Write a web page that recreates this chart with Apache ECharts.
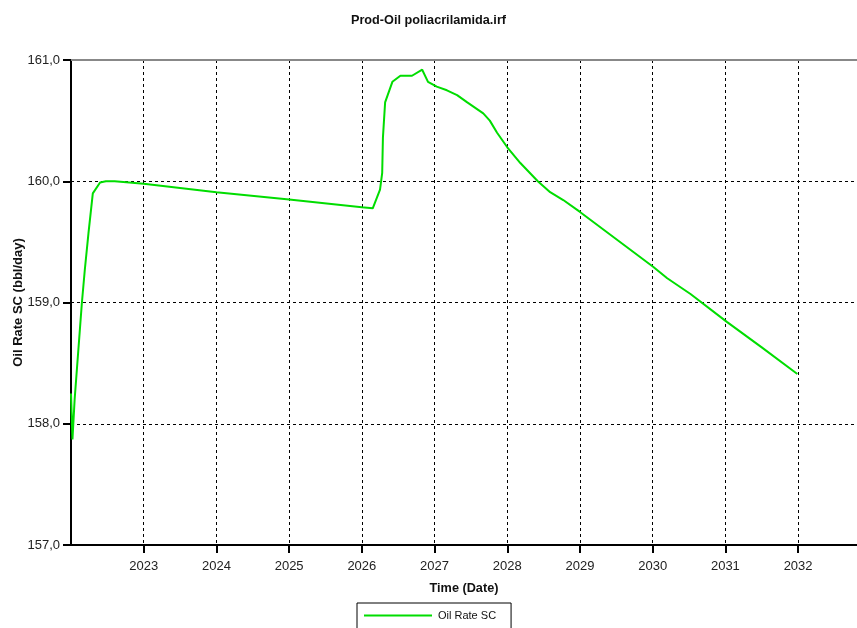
<!DOCTYPE html>
<html>
<head>
<meta charset="utf-8">
<script src="https://cdn.jsdelivr.net/npm/echarts@6/dist/echarts.min.js"></script>
<style>
  html, body { margin: 0; padding: 0; background: #fff; }
  #chart { width: 857px; height: 628px; }
</style>
</head>
<body>
<div id="chart"></div>
<script>
// Time in decimal years
const times = [
  2022.00, 2022.02, 2022.05, 2022.15, 2022.19, 2022.24, 2022.30, 2022.40,
  2022.48, 2022.60, 2023.00, 2024.00, 2025.00, 2026.00, 2026.15, 2026.25,
  2026.28, 2026.29, 2026.32, 2026.42, 2026.53, 2026.69, 2026.83, 2026.84,
  2026.91, 2027.03, 2027.17, 2027.31, 2027.45, 2027.67, 2027.76, 2027.86,
  2028.00, 2028.18, 2028.42, 2028.59, 2028.77, 2029.00, 2030.01, 2030.20,
  2030.52, 2031.02, 2031.50, 2031.99
];
// Oil rate (bbl/day)
const oilRate = [
  158.25, 157.87, 158.20, 159.00, 159.27, 159.57, 159.90, 159.99,
  160.00, 160.00, 159.98, 159.91, 159.85, 159.785, 159.777, 159.93,
  160.07, 160.36, 160.65, 160.82, 160.87, 160.87, 160.92, 160.93,
  160.82, 160.78, 160.75, 160.71, 160.65, 160.56, 160.50, 160.40,
  160.28, 160.15, 160.00, 159.91, 159.845, 159.747, 159.293, 159.20,
  159.07, 158.84, 158.63, 158.41
];
const seriesName = 'Oil Rate SC';
const yTicks = [157, 158, 159, 160, 161];
const yearTicks = [2023, 2024, 2025, 2026, 2027, 2028, 2029, 2030, 2031, 2032];
const xStartYear = 2022;
const xEndYear = 2032.81;

const font = 'Liberation Sans, Arial, sans-serif';
const chart = echarts.init(document.getElementById('chart'), null, { renderer: 'canvas' });

chart.setOption({
  backgroundColor: '#ffffff',
  animation: false,
  title: {
    text: 'Prod-Oil poliacrilamida.irf',
    left: 'center',
    top: 9,
    textStyle: { fontFamily: font, fontSize: 12.7, fontWeight: 'bold', color: '#111' }
  },
  legend: {
    data: [seriesName],
    left: 357,
    top: 603,
    orient: 'horizontal',
    borderColor: '#000',
    borderWidth: 1,
    borderRadius: 0,
    padding: [7, 15, 12, 7],
    itemWidth: 68,
    itemHeight: 12,
    itemGap: 6,
    icon: 'path://M0,5 L68,5 L68,7 L0,7 Z',
    textStyle: { fontFamily: font, fontSize: 11, color: '#111', padding: [0, 0, 0, 1] }
  },
  grid: { left: 71, right: 0, top: 60, bottom: 83, containLabel: false, outerBoundsMode: 'none' },
  xAxis: [{
    type: 'value',
    min: xStartYear,
    max: xEndYear,
    interval: 1,
    name: 'Time (Date)',
    nameLocation: 'middle',
    nameGap: 37,
    nameTextStyle: { fontFamily: font, fontSize: 12.7, fontWeight: 'bold', color: '#111' },
    axisLine: { lineStyle: { color: '#000', width: 2 } },
    axisTick: { show: true, inside: false, length: 8, customValues: yearTicks, lineStyle: { color: '#000', width: 2 } },
    axisLabel: {
      margin: 15,
      fontFamily: font, fontSize: 13, color: '#222',
      customValues: yearTicks,
      formatter: v => String(Math.round(v))
    },
    splitLine: { show: true, lineStyle: { color: '#000', width: 1, type: [3, 3] } }
  }, {
    type: 'value',
    position: 'top',
    min: xStartYear,
    max: xEndYear,
    axisLine: { show: true, onZero: false, lineStyle: { color: '#888', width: 2 } },
    axisTick: { show: false },
    axisLabel: { show: false },
    splitLine: { show: false }
  }],
  yAxis: {
    type: 'value',
    min: yTicks[0],
    max: yTicks[yTicks.length - 1],
    interval: 1,
    name: 'Oil Rate SC (bbl/day)',
    nameLocation: 'middle',
    nameGap: 46,
    nameMoveOverlap: false,
    nameRotate: 90,
    nameTextStyle: { fontFamily: font, fontSize: 13, fontWeight: 'bold', color: '#111' },
    axisLine: { show: true, lineStyle: { color: '#000', width: 2 } },
    axisTick: { show: true, inside: false, length: 8, lineStyle: { color: '#000', width: 2 } },
    axisLabel: {
      margin: 11,
      fontFamily: font, fontSize: 13, color: '#222',
      formatter: v => v.toFixed(1).replace('.', ',')
    },
    splitLine: { show: true, lineStyle: { color: '#000', width: 1, type: [3, 3] } }
  },
  series: [{
    name: seriesName,
    type: 'line',
    xAxisIndex: 0,
    data: times.map((t, i) => [t, oilRate[i]]),
    showSymbol: false,
    symbol: 'none',
    lineStyle: { color: '#00dd00', width: 2 },
    itemStyle: { color: '#00dd00' },
    clip: true
  }]
});
</script>
</body>
</html>
